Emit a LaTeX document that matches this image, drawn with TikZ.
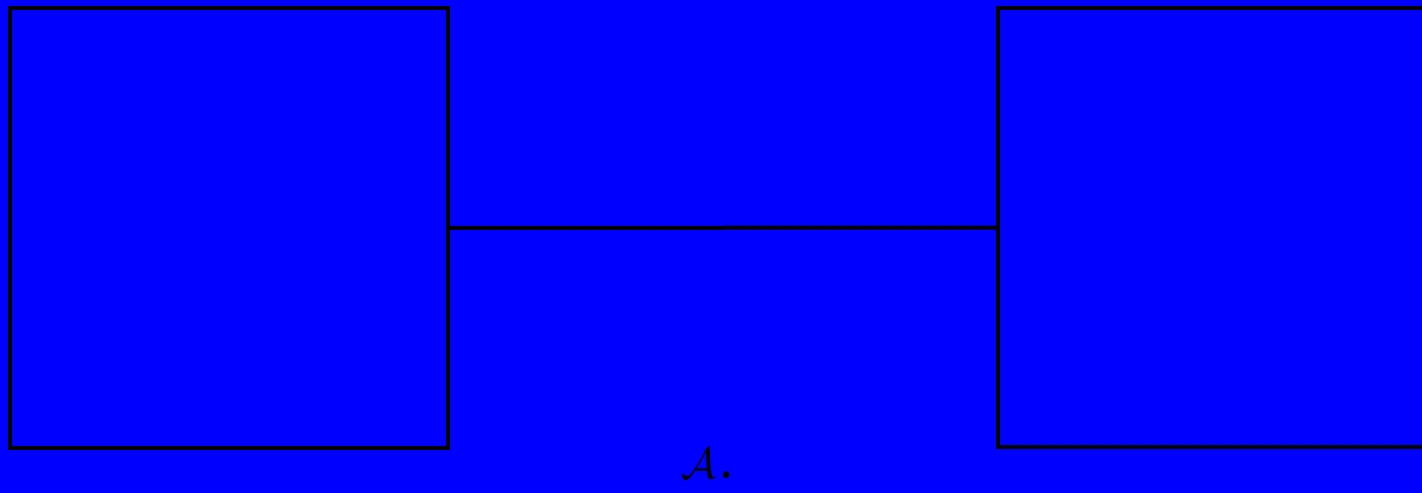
\documentclass[tikz,border=0pt]{standalone}
\begin{document}
\begin{tikzpicture}[x=0.02cm,y=-0.02cm,
  blockbox/.style={draw=black,line width=0.08cm,minimum width=8.76cm,minimum height=8.8cm,inner sep=0pt}]
\useasboundingbox (0,0) rectangle (1422,493);
\fill[blue] (0,0) rectangle (1422,493);
\begin{scope}
\clip (0,0) rectangle (1422,493);
\node[blockbox] (left) at (229,228) {};
\node[blockbox] (right) at (1217,227.5) {};
\draw[line width=0.08cm] (left.east) -- (right.west);
\end{scope}
\node[inner sep=0pt] (label) at (709,464) {\fontsize{46}{50}\selectfont$\mathcal{A}$.};
\end{tikzpicture}
\end{document}
